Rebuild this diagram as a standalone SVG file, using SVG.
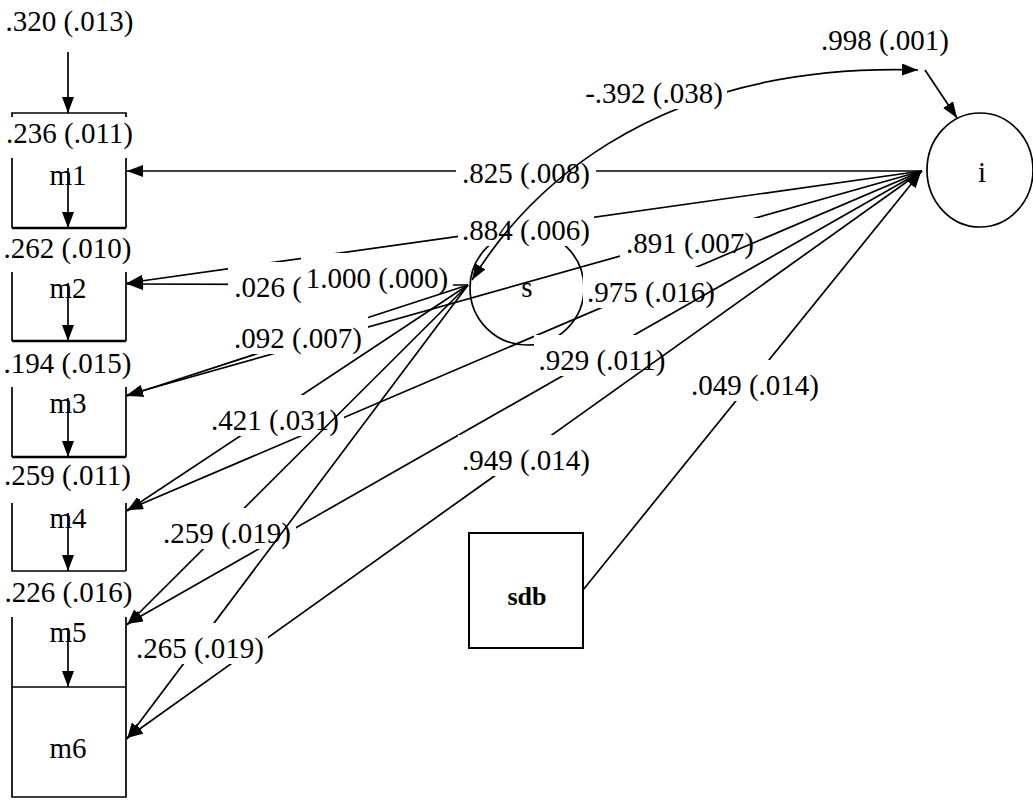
<svg xmlns="http://www.w3.org/2000/svg" width="1033" height="803" viewBox="0 0 1033 803">
<style>
.t{font-family:"Liberation Serif","Times New Roman",serif;font-size:29px;text-anchor:middle;fill:#000}
.b{font-weight:bold;font-size:26px}
.ln{stroke:#000;stroke-width:1.7;fill:none}
.hv{stroke:#000;stroke-width:2.6;fill:none}
.ar{stroke:#000;stroke-width:1.7;fill:none;marker-end:url(#ah)}
.bg{fill:#fff}
</style>
<defs>
<marker id="ah" viewBox="0 0 16 12" refX="16" refY="6" markerWidth="16" markerHeight="12" markerUnits="userSpaceOnUse" orient="auto-start-reverse">
<path d="M0,0 L16,6 L0,12 z" fill="#000"/>
</marker>
</defs>
<rect width="1033" height="803" fill="#fff"/>

<g id="m1">
<path class="ln" d="M12,117 V113 H126 V117 M12,158 V228 M126,158 V228"/>
<path class="hv" d="M12,228 H126"/>
<text class="t" x="69.5" y="143">.236 (.011)</text>
<text class="t" x="68" y="185">m1</text>
</g>
<g id="m2">
<path class="ln" d="M12,272 V341 M126,272 V341"/>
<path class="hv" d="M12,341 H126"/>
<text class="t" x="67.5" y="258">.262 (.010)</text>
<text class="t" x="68" y="298">m2</text>
</g>
<g id="m3">
<path class="ln" d="M12,387 V457 M126,387 V457"/>
<path class="hv" d="M12,457 H126"/>
<text class="t" x="67.5" y="373">.194 (.015)</text>
<text class="t" x="68" y="413">m3</text>
</g>
<g id="m4">
<path class="ln" d="M12,503 V571 H126 M126,503 V571"/>
<text class="t" x="67.5" y="485">.259 (.011)</text>
<text class="t" x="68" y="528">m4</text>
</g>
<g id="m5">
<path class="ln" d="M12,617 V687 H126 M126,617 V687"/>
<text class="t" x="68.5" y="602">.226 (.016)</text>
<text class="t" x="68" y="642">m5</text>
</g>
<g id="m6">
<path class="ln" d="M12,687 V797 H126 V687"/>
<text class="t" x="68" y="758">m6</text>
</g>
<g id="s">
<circle class="ln" cx="527" cy="288" r="57"/>
<text class="t" x="527" y="297">s</text>
</g>
<g id="i">
<ellipse class="ln" cx="980" cy="170" rx="53" ry="57" fill="#fff"/>
<text class="t" x="982" y="182">i</text>
</g>
<g id="sdb">
<rect x="469" y="533" width="114" height="115" fill="#fff" stroke="#000" stroke-width="2"/>
<text class="t b" x="527" y="605">sdb</text>
</g>

<g id="connectors">
<path class="ar" d="M922,171 L127,171"/>
<rect class="bg" x="456" y="148" width="140" height="41"/>
<text class="t" x="526" y="183">.825 (.008)</text>

<path class="ar" d="M922,171 L127,283"/>
<rect class="bg" x="458" y="205" width="136" height="41"/>
<text class="t" x="526" y="240">.884 (.006)</text>

<path class="ar" d="M922,171 L127,395"/>
<rect class="bg" x="620" y="218" width="140" height="41"/>
<text class="t" x="690" y="253">.891 (.007)</text>

<path class="ar" d="M922,171 L127,510"/>
<rect class="bg" x="583" y="267" width="136" height="41"/>
<text class="t" x="651" y="302">.975 (.016)</text>

<path class="ar" d="M922,171 L127,624"/>
<rect class="bg" x="534" y="335" width="136" height="41"/>
<text class="t" x="602" y="370">.929 (.011)</text>

<path class="ar" d="M922,171 L127,738"/>
<rect class="bg" x="458" y="435" width="136" height="41"/>
<text class="t" x="526" y="470">.949 (.014)</text>

<path class="ar" d="M468,285 L127,284"/>
<rect class="bg" x="228" y="262" width="80" height="41"/>
<text class="t" x="268" y="297">.026 (</text>
<rect class="bg" x="301" y="253" width="152" height="41"/>
<text class="t" x="377" y="288">1.000 (.000)</text>

<path class="ar" d="M468,285 L127,396"/>
<rect class="bg" x="228" y="313" width="140" height="41"/>
<text class="t" x="298" y="348">.092 (.007)</text>

<path class="ar" d="M468,285 L127,511"/>
<rect class="bg" x="206" y="395" width="138" height="41"/>
<text class="t" x="275" y="430">.421 (.031)</text>

<path class="ar" d="M468,285 L127,625"/>
<rect class="bg" x="158" y="508" width="138" height="41"/>
<text class="t" x="227" y="543">.259 (.019)</text>

<path class="ar" d="M468,285 L127,739"/>
<rect class="bg" x="132" y="623" width="136" height="41"/>
<text class="t" x="200" y="658">.265 (.019)</text>

<path class="ar" d="M583,590 L921,172"/>
<rect class="bg" x="687" y="360" width="136" height="41"/>
<text class="t" x="755" y="395">.049 (.014)</text>

<path class="ln" d="M472,280 C518,205 640,62 918,70" marker-start="url(#ah)" marker-end="url(#ah)"/>
<rect class="bg" x="582" y="68" width="145" height="41"/>
<text class="t" x="654" y="103">-.392 (.038)</text>

<path class="ar" d="M925,70 L957,118"/>
<text class="t" x="885" y="50">.998 (.001)</text>

<path class="ar" d="M68,52 V113"/>
<text class="t" x="69.5" y="31">.320 (.013)</text>

<path class="ar" d="M68,168 V228"/>
<path class="ar" d="M68,283 V341"/>
<path class="ar" d="M68,398 V457"/>
<path class="ar" d="M68,513 V571"/>
<path class="ar" d="M68,628 V687"/>
</g>
</svg>
